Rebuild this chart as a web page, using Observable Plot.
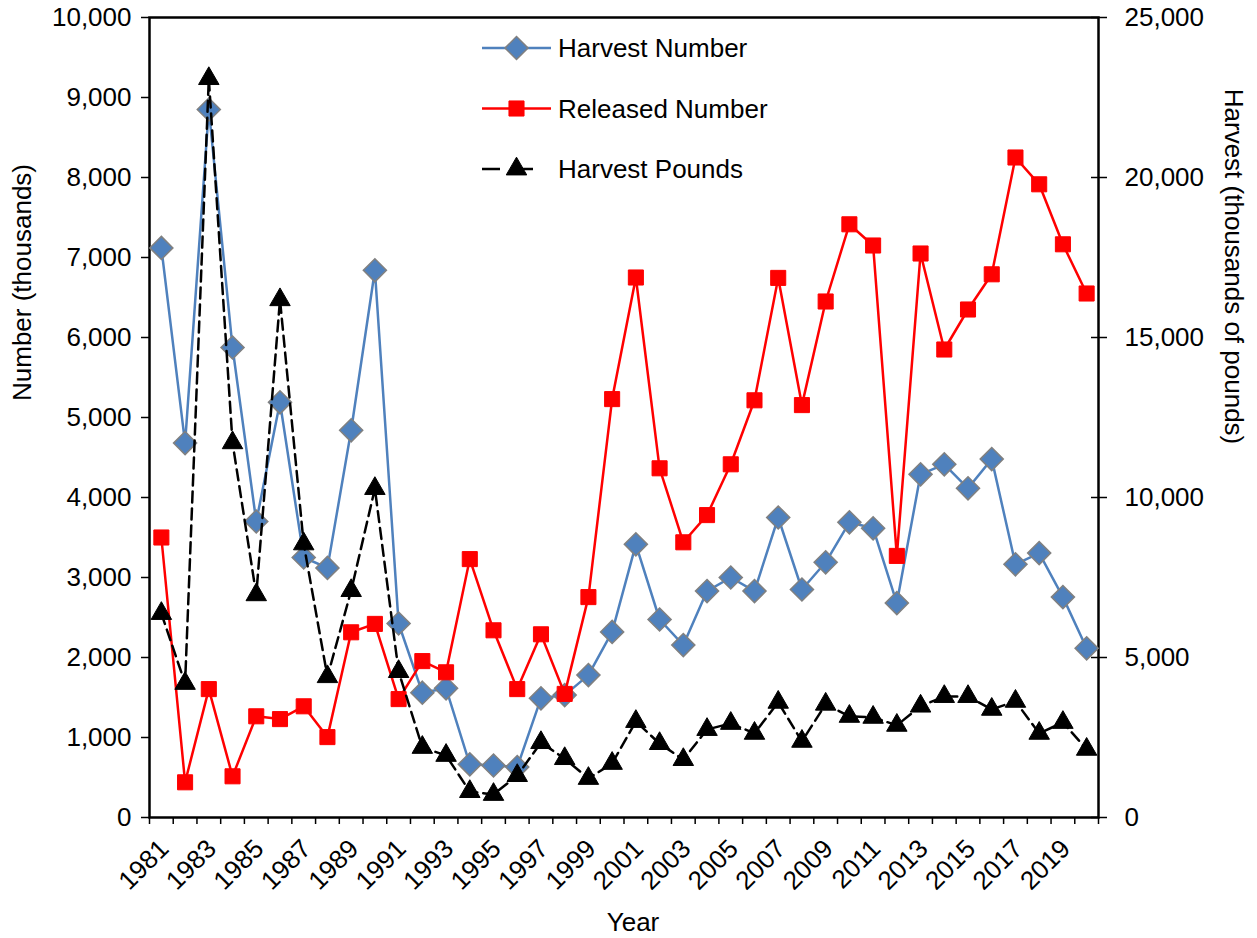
<!DOCTYPE html>
<html><head><meta charset="utf-8">
<script src="https://cdn.jsdelivr.net/npm/d3@7"></script>
<script src="https://cdn.jsdelivr.net/npm/@observablehq/plot@0.6"></script>
<style>
body{margin:0;background:#fff;}
#chart{position:relative;width:1257px;height:938px;font-family:Arial,"Liberation Sans",sans-serif;}
#chart svg{display:block;}
#legend{position:absolute;left:0;top:0;pointer-events:none;}
</style>
</head><body><div id="chart"></div>
<script>
const years = [1981,1982,1983,1984,1985,1986,1987,1988,1989,1990,1991,1992,1993,1994,1995,1996,1997,1998,1999,2000,2001,2002,2003,2004,2005,2006,2007,2008,2009,2010,2011,2012,2013,2014,2015,2016,2017,2018,2019,2020];
const harvestNumber = [7120,4680,8850,5875,3700,5190,3250,3120,4840,6840,2425,1560,1615,665,650,630,1490,1530,1780,2320,3415,2475,2155,2830,3000,2830,3750,2850,3190,3690,3615,2680,4290,4415,4115,4480,3165,3305,2755,2115];
const releasedNumber = [3500,440,1605,515,1265,1230,1390,1005,2315,2420,1480,1955,1815,3230,2340,1605,2290,1545,2755,5230,6750,4365,3440,3780,4415,5215,6745,5155,6450,7415,7150,3270,7050,5850,6350,6790,8250,7915,7165,6550];
const harvestPounds = [6375,4190,23090,11710,6960,16180,8550,4400,7090,10280,4560,2190,1940,810,720,1310,2340,1840,1220,1690,3000,2310,1810,2750,2940,2630,3600,2380,3540,3160,3130,2880,3480,3780,3780,3380,3630,2630,2970,2130];
const yearLabels = [1981,1983,1985,1987,1989,1991,1993,1995,1997,1999,2001,2003,2005,2007,2009,2011,2013,2015,2017,2019];
const leftTicks = [0,1000,2000,3000,4000,5000,6000,7000,8000,9000,10000];
const rightTicks = [0,5000,10000,15000,20000,25000];
const leftMax = 10000, rightMax = 25000;
const seriesNames = ["Harvest Number","Released Number","Harvest Pounds"];

const ratio = leftMax / rightMax;
const rows = years.map((y,i)=>({year:y, hn:harvestNumber[i], rn:releasedNumber[i], hp:harvestPounds[i]*ratio}));
const boundaries = years.map(y=>y-0.5).concat([years[years.length-1]+0.5]);
const fmt = d3.format(",");

const W=1257,H=938, ml=149, mr=159, mt=17, mb=121;
const blue="#4F81BD", red="#FF0000";

const plot = Plot.plot({
  width:W, height:H, marginLeft:ml, marginRight:mr, marginTop:mt, marginBottom:mb,
  style:{fontFamily:"Arial, 'Liberation Sans', sans-serif", fontSize:"26px", color:"#000", background:"#fff", overflow:"visible"},
  x:{type:"linear", domain:[boundaries[0], boundaries[boundaries.length-1]]},
  y:{domain:[0,leftMax]},
  marks:[
    Plot.axisY({ticks:leftTicks, tickFormat:fmt, tickSize:8, tickPadding:10, label:null, fontSize:26, strokeWidth:1.5}),
    Plot.axisY({anchor:"right", ticks:rightTicks.map(d=>d*ratio), tickFormat:()=>"", tickSize:16, dx:-8, label:null, strokeWidth:1.5}),
    Plot.axisY({anchor:"right", ticks:rightTicks.map(d=>d*ratio), tickFormat:d=>fmt(d/ratio), tickSize:0, tickPadding:26, label:null, fontSize:26}),
    Plot.axisX({ticks:boundaries, tickFormat:()=>"", tickSize:7, label:null, strokeWidth:1.5}),
    Plot.axisX({ticks:yearLabels, tickFormat:d=>String(d), tickSize:0, tickPadding:27, dx:3, tickRotate:-45, label:null, fontSize:26}),
    Plot.frame({stroke:"#000", strokeWidth:2.5}),
    Plot.line(rows,{x:"year", y:"hn", stroke:blue, strokeWidth:2.5}),
    Plot.dot(rows,{x:"year", y:"hn", symbol:"diamond2", r:10.4, fill:blue, stroke:"#808080", strokeWidth:1.5}),
    Plot.line(rows,{x:"year", y:"rn", stroke:red, strokeWidth:2.5}),
    Plot.dot(rows,{x:"year", y:"rn", symbol:"square", r:8.5, fill:red, stroke:red, strokeWidth:1}),
    Plot.line(rows,{x:"year", y:"hp", stroke:"#000", strokeWidth:2.5, strokeDasharray:"11,6"}),
    Plot.dot(rows,{x:"year", y:"hp", symbol:"triangle", r:7.6, fill:"#000", stroke:"#000", strokeWidth:1}),
    Plot.text(["Number (thousands)"],{frameAnchor:"top-left", textAnchor:"middle", lineAnchor:"middle", dx:-127, dy:265, rotate:-90, fontSize:26}),
    Plot.text(["Harvest (thousands of pounds)"],{frameAnchor:"top-right", textAnchor:"middle", lineAnchor:"middle", dx:135, dy:249, rotate:90, fontSize:26}),
    Plot.text(["Year"],{frameAnchor:"bottom", textAnchor:"middle", lineAnchor:"middle", dx:9, dy:105, fontSize:26})
  ]
});
const chart = document.getElementById("chart");
chart.appendChild(plot);

// legend overlay
const lg = d3.select(chart).append("svg").attr("id","legend").attr("width",W).attr("height",H);
const items = [
  {name:seriesNames[0], stroke:blue, dash:null, sym:d3.symbolDiamond2, size:Math.PI*10.4*10.4, fill:blue, ms:"#808080", msw:1.5},
  {name:seriesNames[1], stroke:red, dash:null, sym:d3.symbolSquare, size:Math.PI*8.5*8.5, fill:red, ms:red, msw:1},
  {name:seriesNames[2], stroke:"#000", dash:"18,22,11", sym:d3.symbolTriangle, size:Math.PI*7.6*7.6, fill:"#000", ms:"#000", msw:1}
];
const ly0 = 48, ldy = 60.5, lx0 = 482, lx1 = 551, lxm = 516.5, ltx = 558;
items.forEach((it,i)=>{
  const yy = ly0 + i*ldy;
  const g = lg.append("g");
  g.append("line").attr("x1",lx0).attr("x2",lx1).attr("y1",yy).attr("y2",yy)
    .attr("stroke",it.stroke).attr("stroke-width",2.5).attr("stroke-dasharray",it.dash);
  g.append("path").attr("d",d3.symbol(it.sym,it.size)()).attr("transform",`translate(${lxm},${yy})`)
    .attr("fill",it.fill).attr("stroke",it.ms).attr("stroke-width",it.msw);
  g.append("text").attr("x",ltx).attr("y",yy).attr("dy","0.35em").attr("font-size",26)
    .attr("font-family","Arial, 'Liberation Sans', sans-serif").attr("fill","#000").text(it.name);
});
</script>
</body></html>
